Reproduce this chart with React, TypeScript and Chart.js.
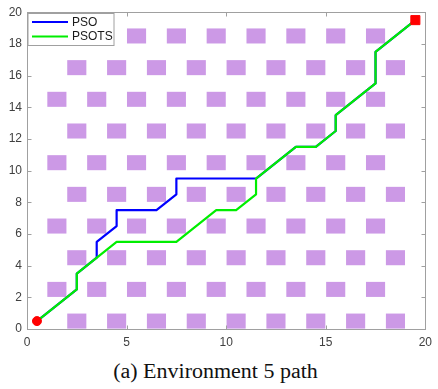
import React, { useEffect, useRef } from 'react';
import { Chart, registerables } from 'chart.js';
Chart.register(...registerables);

// Path data
const PSO_X = [0.5, 2.5, 2.5, 3.5, 3.5, 4.5, 4.5, 6.5, 7.5, 7.5, 11.5, 13.5, 14.5, 15.5, 15.5, 17.5, 17.5, 19.5];
const PSO_Y = [0.5, 2.5, 3.5, 4.5, 5.5, 6.5, 7.5, 7.5, 8.5, 9.5, 9.5, 11.5, 11.5, 12.5, 13.5, 15.5, 17.5, 19.5];
const PSOTS_X = [0.5, 2.5, 2.5, 4.5, 7.5, 9.5, 10.5, 11.5, 11.5, 13.5, 14.5, 15.5, 15.5, 17.5, 17.5, 19.5];
const PSOTS_Y = [0.5, 2.5, 3.5, 5.5, 5.5, 7.5, 7.5, 8.5, 9.5, 11.5, 11.5, 12.5, 13.5, 15.5, 17.5, 19.5];
const START = [0.5, 0.5];
const GOAL = [19.5, 19.5];

// Obstacle cells (lower-left corners, 1x1 cells)
const EVEN_COLS = [2, 4, 6, 8, 10, 12, 14, 16, 18];
const ODD_COLS = [1, 3, 5, 7, 9, 11, 13, 15, 17];
const TOP_COLS = [5, 7, 9, 11, 13, 15, 17];
const OBSTACLE_ROWS: [number, number[]][] = [
  [0, EVEN_COLS],
  [2, ODD_COLS],
  [4, EVEN_COLS],
  [6, ODD_COLS],
  [8, EVEN_COLS],
  [10, ODD_COLS],
  [12, EVEN_COLS],
  [14, ODD_COLS],
  [16, EVEN_COLS],
  [18, TOP_COLS],
];

const X_TICKS = [0, 5, 10, 15, 20];
const Y_TICKS = [0, 2, 4, 6, 8, 10, 12, 14, 16, 18, 20];
const LEGEND_LABELS = ['PSO', 'PSOTS'];
const LEGEND_COLORS = ['#0000ff', '#00ee00'];

const FONT = "'Liberation Sans', Arial, sans-serif";

const obstaclePlugin = {
  id: 'obstacles',
  beforeDatasetsDraw(chart: any) {
    const { ctx } = chart;
    const xs = chart.scales.x;
    const ys = chart.scales.y;
    ctx.save();
    ctx.fillStyle = '#cc99e6';
    for (const [row, cols] of OBSTACLE_ROWS) {
      for (const c of cols) {
        const x0 = xs.getPixelForValue(c);
        const x1 = xs.getPixelForValue(c + 1);
        const y0 = ys.getPixelForValue(row + 1);
        const y1 = ys.getPixelForValue(row);
        ctx.fillRect(x0 + 0.4, y0 + 0.4, x1 - x0 - 0.8, y1 - y0 - 0.8);
      }
    }
    ctx.restore();
  },
};

const framePlugin = {
  id: 'frameAndLegend',
  afterDraw(chart: any) {
    const { ctx, chartArea: a } = chart;
    const xs = chart.scales.x;
    const ys = chart.scales.y;
    ctx.save();
    ctx.strokeStyle = '#a0a0a0';
    ctx.lineWidth = 1;
    const L = Math.round(a.left) + 0.5;
    const R = Math.round(a.right) + 0.5;
    const T = Math.round(a.top) + 0.5;
    const B = Math.round(a.bottom) + 0.5;
    ctx.strokeRect(L, T, R - L, B - T);
    const tl = 4;
    ctx.beginPath();
    for (const v of X_TICKS) {
      const px = Math.round(xs.getPixelForValue(v)) + 0.5;
      ctx.moveTo(px, B); ctx.lineTo(px, B - tl);
      ctx.moveTo(px, T); ctx.lineTo(px, T + tl);
    }
    for (const v of Y_TICKS) {
      const py = Math.round(ys.getPixelForValue(v)) + 0.5;
      ctx.moveTo(L, py); ctx.lineTo(L + tl, py);
      ctx.moveTo(R, py); ctx.lineTo(R - tl, py);
    }
    ctx.stroke();

    // legend
    const lx = L + 0.5;
    const ly = T + 1;
    const lw = 86;
    const lh = 32;
    ctx.fillStyle = '#ffffff';
    ctx.fillRect(lx, ly, lw, lh);
    ctx.strokeStyle = '#a0a0a0';
    ctx.strokeRect(lx, ly, lw, lh);
    ctx.font = `12px ${FONT}`;
    ctx.textBaseline = 'middle';
    ctx.textAlign = 'left';
    LEGEND_LABELS.forEach((lab, i) => {
      const yy = ly + 8.5 + i * 14.5;
      ctx.strokeStyle = LEGEND_COLORS[i];
      ctx.lineWidth = 2.2;
      ctx.beginPath();
      ctx.moveTo(lx + 4, yy);
      ctx.lineTo(lx + 40, yy);
      ctx.stroke();
      ctx.fillStyle = '#1a1a1a';
      ctx.fillText(lab, lx + 44, yy + 0.5);
    });
    ctx.restore();
  },
};

export default function App() {
  const ref = useRef<HTMLCanvasElement>(null);
  useEffect(() => {
    document.body.style.margin = '0';
    const toPts = (xs: number[], ys: number[]) => xs.map((x, i) => ({ x, y: ys[i] }));
    const chart = new Chart(ref.current!, {
      type: 'scatter',
      data: {
        datasets: [
          {
            label: 'start',
            data: [{ x: START[0], y: START[1] }],
            backgroundColor: '#ff0000',
            borderColor: '#ff0000',
            pointRadius: 4.5,
            pointStyle: 'circle',
            order: -2,
          },
          {
            label: 'goal',
            data: [{ x: GOAL[0], y: GOAL[1] }],
            backgroundColor: '#ff0000',
            borderColor: '#ff0000',
            pointRadius: 6.4,
            pointStyle: 'rect',
            order: -2,
          },
          {
            label: LEGEND_LABELS[1],
            data: toPts(PSOTS_X, PSOTS_Y),
            showLine: true,
            borderColor: LEGEND_COLORS[1],
            borderWidth: 2.2,
            pointRadius: 0,
            borderJoinStyle: 'round',
            order: -1,
          },
          {
            label: LEGEND_LABELS[0],
            data: toPts(PSO_X, PSO_Y),
            showLine: true,
            borderColor: LEGEND_COLORS[0],
            borderWidth: 2.2,
            pointRadius: 0,
            borderJoinStyle: 'round',
            order: 0,
          },
        ],
      },
      options: {
        animation: false,
        responsive: false,
        maintainAspectRatio: false,
        layout: { padding: { top: 9, right: 6.5, left: 0, bottom: 0 } },
        plugins: { legend: { display: false }, tooltip: { enabled: false } },
        scales: {
          x: {
            type: 'linear',
            min: 0,
            max: 20,
            afterBuildTicks: (s: any) => { s.ticks = X_TICKS.map((v) => ({ value: v })); },
            afterFit: (s: any) => { s.height = 23; },
            ticks: { font: { family: FONT, size: 12 }, color: '#404040', padding: 6 },
            grid: { display: false, drawTicks: false },
            border: { display: false },
          },
          y: {
            type: 'linear',
            min: 0,
            max: 20,
            afterBuildTicks: (s: any) => { s.ticks = Y_TICKS.map((v) => ({ value: v })); },
            afterFit: (s: any) => { s.width = 27; },
            ticks: { font: { family: FONT, size: 12 }, color: '#404040', padding: 5 },
            grid: { display: false, drawTicks: false },
            border: { display: false },
          },
        },
      },
      plugins: [obstaclePlugin, framePlugin],
    } as any);
    return () => chart.destroy();
  }, []);
  return (
    <div style={{ position: 'relative', width: 438, height: 389, background: '#fff' }}>
      <canvas ref={ref} width={438} height={352} style={{ display: 'block', width: 438, height: 352 }} />
      <div
        style={{
          position: 'absolute',
          top: 361,
          left: 0,
          width: 431,
          textAlign: 'center',
          fontFamily: "'Liberation Serif', 'Times New Roman', serif",
          fontSize: 20,
          lineHeight: '20px',
          color: '#111',
          whiteSpace: 'nowrap',
          transform: 'scaleX(1.1)',
          transformOrigin: '215.5px 50%',
        }}
      >
        (a) Environment 5 path
      </div>
    </div>
  );
}
